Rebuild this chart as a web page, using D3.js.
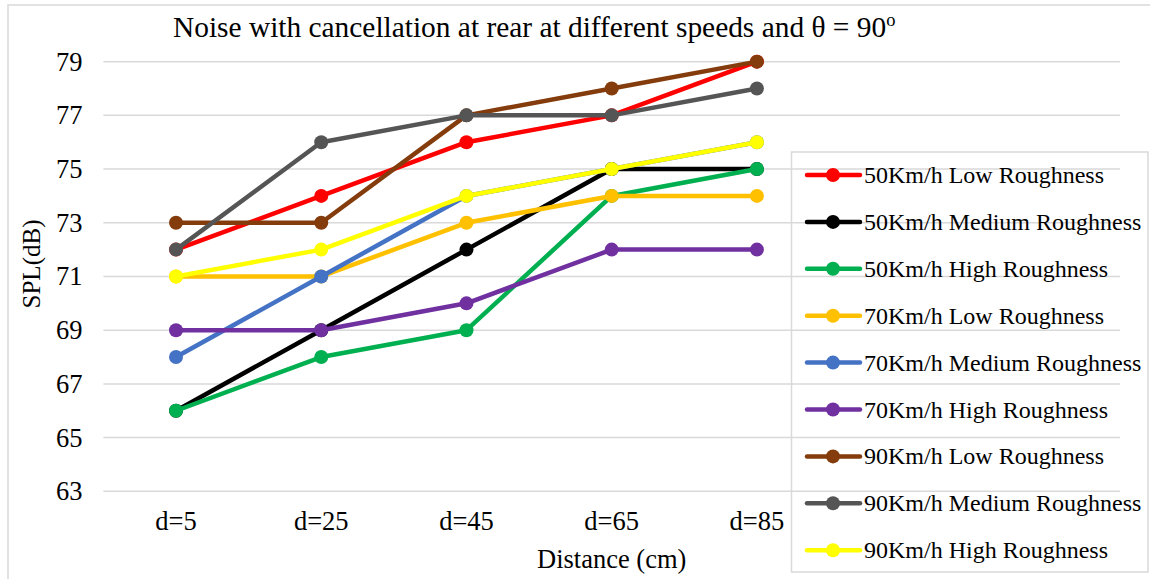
<!DOCTYPE html>
<html>
<head>
<meta charset="utf-8">
<script src="https://cdn.jsdelivr.net/npm/d3@7"></script>
<style>
  html, body { margin: 0; padding: 0; background: #fff; }
  svg { display: block; font-family: "Liberation Serif", "Times New Roman", serif; }
</style>
</head>
<body>
<svg id="chart" width="1150" height="579"></svg>
<script>
// ---- data ----
const categories = ["d=5", "d=25", "d=45", "d=65", "d=85"];
const slotCount = 7; // category axis has 7 slots, last two empty
const yTicks = [63, 65, 67, 69, 71, 73, 75, 77, 79];

const seriesNames = [
  "50Km/h Low Roughness",
  "50Km/h Medium Roughness",
  "50Km/h High Roughness",
  "70Km/h Low Roughness",
  "70Km/h Medium Roughness",
  "70Km/h High Roughness",
  "90Km/h Low Roughness",
  "90Km/h Medium Roughness",
  "90Km/h High Roughness"
];
const v50Low    = [72, 74, 76, 77, 79];
const v50Medium = [66, 69, 72, 75, 75];
const v50High   = [66, 68, 69, 74, 75];
const v70Low    = [71, 71, 73, 74, 74];
const v70Medium = [68, 71, 74, 75, 76];
const v70High   = [69, 69, 70, 72, 72];
const v90Low    = [73, 73, 77, 78, 79];
const v90Medium = [72, 76, 77, 77, 78];
const v90High   = [71, 72, 74, 75, 76];
const seriesValues = [v50Low, v50Medium, v50High, v70Low, v70Medium, v70High, v90Low, v90Medium, v90High];
const seriesColors = ["#FF0000", "#000000", "#00B050", "#FFC000", "#4472C4", "#7030A0", "#843C0C", "#555555", "#FFFF00"];

// ---- layout ----
const plot = { left: 103.4, right: 1120, top: 34.8, bottom: 491.3 };
const svg = d3.select("#chart");

// chart border
svg.append("rect").attr("x", 8).attr("y", 5).attr("width", 1150).attr("height", 600)
  .attr("fill", "#fff").attr("stroke", "#d9d9d9").attr("stroke-width", 1.5);

const x = d3.scaleBand().domain(d3.range(slotCount)).range([plot.left, plot.right]).paddingInner(0).paddingOuter(0);
const y = d3.scaleLinear().domain([63, 80]).range([plot.bottom, plot.top]);

// gridlines
svg.append("g").selectAll("line").data(yTicks).join("line")
  .attr("x1", plot.left).attr("x2", plot.right)
  .attr("y1", d => y(d)).attr("y2", d => y(d))
  .attr("stroke", "#d9d9d9").attr("stroke-width", 1.5);

// y tick labels
const yAxis = d3.axisLeft(y).tickValues(yTicks).tickSize(0).tickPadding(21);
const gy = svg.append("g").attr("transform", `translate(${plot.left},0)`).call(yAxis);
gy.select(".domain").remove();
gy.selectAll("text").attr("font-family", "Liberation Serif").attr("font-size", 26.5).attr("fill", "#000");

// x tick labels
const xAxis = d3.axisBottom(x).tickFormat(i => categories[i] || "").tickSize(0).tickPadding(0);
const gx = svg.append("g").attr("transform", `translate(0,${plot.bottom})`).call(xAxis);
gx.select(".domain").remove();
gx.selectAll("text").attr("font-family", "Liberation Serif").attr("font-size", 26.5).attr("fill", "#000")
  .attr("dy", null).attr("y", 39);

// axis titles
svg.append("text").attr("x", (plot.left + plot.right) / 2).attr("y", 568)
  .attr("text-anchor", "middle").attr("font-size", 26.5).text("Distance (cm)");
svg.append("text").attr("transform", `translate(40,264) rotate(-90)`)
  .attr("text-anchor", "middle").attr("font-size", 25).text("SPL(dB)");

// title
const title = svg.append("text").attr("x", 173).attr("y", 37).attr("font-size", 29.4);
title.append("tspan").text("Noise with cancellation at rear at different speeds and θ = 90");
title.append("tspan").attr("font-size", 18.5).attr("dy", -11).text("o");

// series
const line = d3.line().x((d, i) => x(i) + x.bandwidth() / 2).y(d => y(d));
seriesValues.forEach((vals, s) => {
  const g = svg.append("g");
  g.append("path").datum(vals).attr("d", line)
    .attr("fill", "none").attr("stroke", seriesColors[s]).attr("stroke-width", 4.5)
    .attr("stroke-linejoin", "round").attr("stroke-linecap", "round");
  g.selectAll("circle").data(vals).join("circle")
    .attr("cx", (d, i) => x(i) + x.bandwidth() / 2).attr("cy", d => y(d))
    .attr("r", 7).attr("fill", seriesColors[s]);
});

// legend
const legend = svg.append("g");
legend.append("rect").attr("x", 791.5).attr("y", 152).attr("width", 356.5).attr("height", 420)
  .attr("fill", "#fff").attr("fill-opacity", 0).attr("stroke", "#d9d9d9").attr("stroke-width", 1.5);
const rowY = i => 175 + i * 46.9;
seriesNames.forEach((name, i) => {
  const row = legend.append("g");
  row.append("line").attr("x1", 807).attr("x2", 860).attr("y1", rowY(i)).attr("y2", rowY(i))
    .attr("stroke", seriesColors[i]).attr("stroke-width", 4.5).attr("stroke-linecap", "round");
  row.append("circle").attr("cx", 833).attr("cy", rowY(i)).attr("r", 7).attr("fill", seriesColors[i]);
  row.append("text").attr("x", 864).attr("y", rowY(i) + 8).attr("font-size", 24).text(name);
});
</script>
</body>
</html>
